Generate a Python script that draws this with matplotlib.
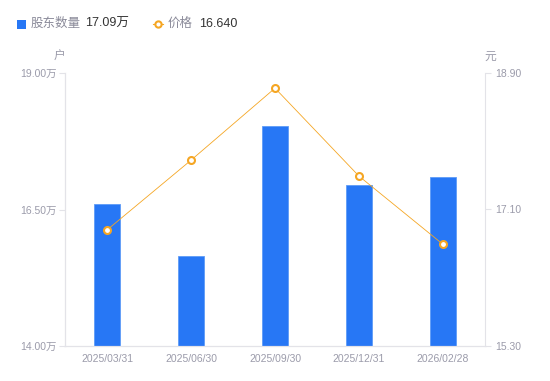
import matplotlib
matplotlib.use("Agg")
import matplotlib.pyplot as plt
from matplotlib.lines import Line2D
from matplotlib.patches import Rectangle

plt.rcParams['font.family'] = ['Liberation Sans', 'Noto Sans CJK SC', 'DejaVu Sans']

categories = ["2025/03/31", "2025/06/30", "2025/09/30", "2025/12/31", "2026/02/28"]
holders = [16.60, 15.65, 18.03, 16.95, 17.09]   # 万户
price = [16.83, 17.75, 18.70, 17.54, 16.64]     # 元
left_ticks = [14.00, 16.50, 19.00]
right_ticks = [15.30, 17.10, 18.90]

W, H = 550, 381
fig = plt.figure(figsize=(W / 100, H / 100), dpi=100)
ax = fig.add_axes([65 / W, (H - 346) / H, 420 / W, 273 / H])
ax2 = ax.twinx()

bar_color = "#2777F5"
line_color = "#F5A623"
tick_color = "#9B9BAA"
spine_color = "#E3E3E8"

x = list(range(len(categories)))
ax.bar(x, holders, width=0.3, color=bar_color, edgecolor="#5E9BF7", linewidth=0.6, zorder=2)
ax.set_xlim(-0.5, len(categories) - 0.5)
ax.set_ylim(left_ticks[0], left_ticks[-1])
ax.set_yticks(left_ticks)
ax.set_yticklabels([f"{v:.2f}万" for v in left_ticks])
ax.set_xticks(x)
ax.set_xticklabels(categories)

ax2.plot(x, price, color=line_color, linewidth=0.6, marker="o", markersize=5,
         markerfacecolor="white", markeredgecolor=line_color, markeredgewidth=1.5, zorder=3)
ax2.set_ylim(right_ticks[0], right_ticks[-1])
ax2.set_yticks(right_ticks)
ax2.set_yticklabels([f"{v:.2f}" for v in right_ticks])
ax2.set_zorder(ax.get_zorder() + 1)
ax2.patch.set_visible(False)

for a in (ax, ax2):
    for s in a.spines.values():
        s.set_color(spine_color)
        s.set_linewidth(0.8)
    a.spines["top"].set_visible(False)
ax.spines["right"].set_visible(False)

ax.tick_params(axis="y", colors=spine_color, labelcolor=tick_color, labelsize=7.5, length=4, width=0.8, pad=2)
ax.tick_params(axis="x", length=0, labelcolor=tick_color, labelsize=7.5, pad=6)
ax2.tick_params(axis="y", colors=spine_color, labelcolor=tick_color, labelsize=7.5, length=4, width=0.8, pad=3)

# unit labels
fig.text(59 / W, 1 - 57 / H, "户", color=tick_color, fontsize=8.5, ha="center", va="center")
fig.text(490 / W, 1 - 57 / H, "元", color=tick_color, fontsize=8.5, ha="center", va="center")

# legend
fig.patches.append(Rectangle((17 / W, 1 - 28.5 / H), 9 / W, 9 / H, transform=fig.transFigure,
                             facecolor=bar_color, edgecolor="none"))
fig.text(31 / W, 1 - 24 / H, "股东数量", color="#8A8A99", fontsize=9, ha="left", va="center")
fig.text(85 / W, 1 - 24 / H, "17.09万", color="#333333", fontsize=9, ha="left", va="center")
fig.lines.append(Line2D([153 / W, 163 / W], [1 - 24 / H, 1 - 24 / H], transform=fig.transFigure,
                        color=line_color, linewidth=0.8))
fig.lines.append(Line2D([158 / W], [1 - 24 / H], transform=fig.transFigure, marker="o", markersize=4.5,
                        markerfacecolor="white", markeredgecolor=line_color, markeredgewidth=1.5))
fig.text(168 / W, 1 - 24 / H, "价格", color="#8A8A99", fontsize=9, ha="left", va="center")
fig.text(199 / W, 1 - 24 / H, "16.640", color="#333333", fontsize=9, ha="left", va="center")

fig.savefig("out.png", dpi=100)
